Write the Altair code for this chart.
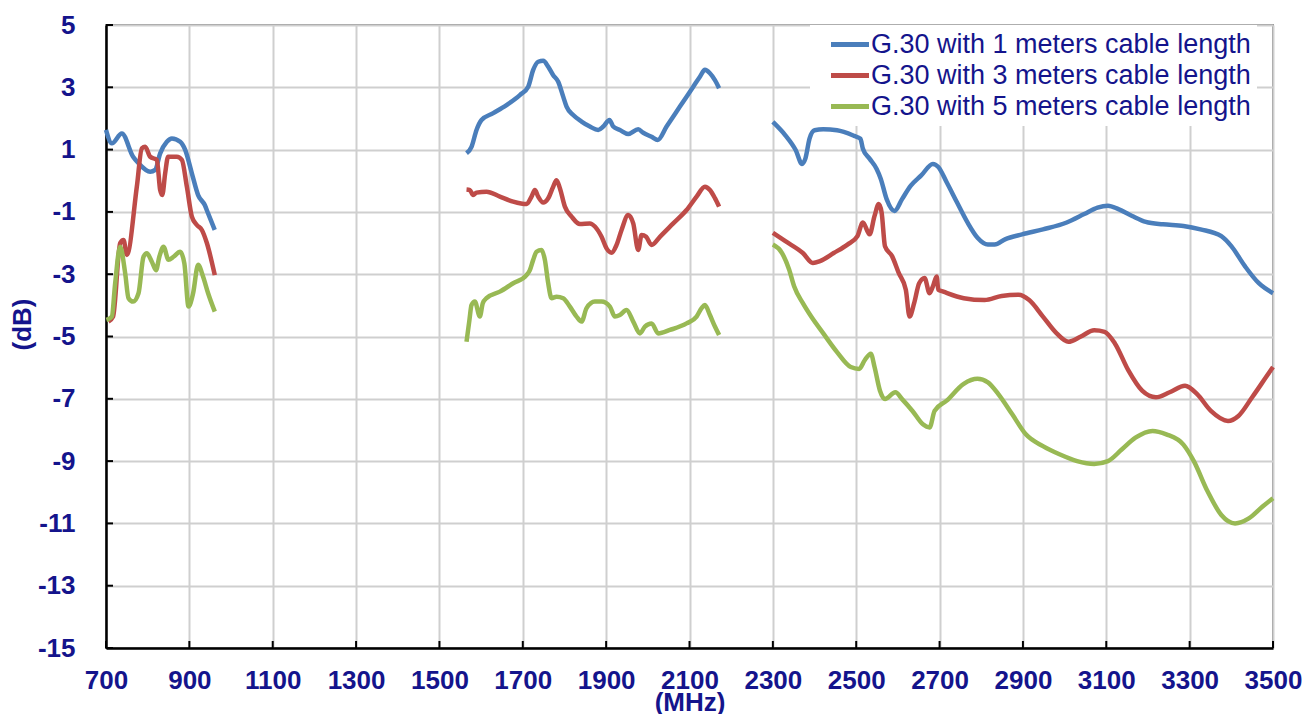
import altair as alt
import pandas as pd

NAVY = "#14148C"
FONT = "Liberation Sans"

series_names = [
    "G.30 with 1 meters cable length",
    "G.30 with 3 meters cable length",
    "G.30 with 5 meters cable length",
]
series_colors = ["#4A7EBB", "#BE4B48", "#98B954"]

# ---------- 1 m cable ----------
b1_f1 = [700, 714, 738, 765, 778, 806, 818, 830, 846, 858, 878, 890, 906, 921, 937, 945, 961]
b1_v1 = [1.63, 1.2, 1.52, 0.77, 0.56, 0.29, 0.35, 0.88, 1.25, 1.36, 1.25, 0.99, 0.24, -0.46, -0.78, -1.05, -1.58]
b2_f1 = [1565, 1577, 1589, 1601, 1629, 1661, 1693, 1713, 1725, 1737, 1749, 1761, 1773, 1785, 1797, 1805,
         1821, 1841, 1861, 1881, 1893, 1908, 1917, 1933, 1953, 1977, 1989, 2009, 2024, 2045, 2077, 2109,
         2125, 2137, 2149, 2161, 2171]
b2_v1 = [0.88, 1.09, 1.63, 1.95, 2.17, 2.43, 2.75, 3.02, 3.56, 3.82, 3.85, 3.66, 3.39, 3.18, 2.70, 2.38,
         2.11, 1.90, 1.74, 1.63, 1.74, 1.95, 1.74, 1.63, 1.50, 1.65, 1.54, 1.41, 1.31, 1.74, 2.38, 3.02,
         3.34, 3.56, 3.45, 3.23, 2.97]
b3_f1 = [2300, 2330, 2355, 2370, 2378, 2388, 2400, 2421, 2454, 2495, 2510, 2516, 2532, 2549, 2559, 2573,
         2592, 2610, 2631, 2656, 2684, 2697, 2717, 2742, 2767, 2791, 2816, 2832, 2857, 2898, 2948, 3005,
         3047, 3079, 3104, 3129, 3162, 3195, 3236, 3285, 3326, 3376, 3400, 3433, 3466, 3500]
b3_v1 = [1.89, 1.46, 0.98, 0.54, 0.71, 1.35, 1.62, 1.65, 1.62, 1.44, 1.35, 1.03, 0.71, 0.38, 0.06, -0.59,
         -0.97, -0.59, -0.16, 0.17, 0.54, 0.44, -0.05, -0.70, -1.34, -1.83, -2.05, -2.05, -1.88, -1.72, -1.56, -1.34,
         -1.07, -0.86, -0.80, -0.91, -1.13, -1.32, -1.40, -1.45, -1.56, -1.78, -2.10, -2.75, -3.29, -3.61]

# ---------- 3 m cable ----------
b1_f3 = [706, 717, 734, 742, 750, 774, 786, 794, 806, 822, 830, 835, 842, 849, 870, 882, 894, 906, 918, 930, 942, 961]
b1_v3 = [-4.52, -4.36, -2.0, -1.9, -2.38, -0.19, 1.04, 1.09, 0.77, 0.67, -0.30, -0.46, 0.24, 0.77, 0.77, 0.67,
         -0.19, -1.15, -1.42, -1.58, -2.0, -3.03]
b2_f3 = [1565, 1573, 1581, 1589, 1613, 1645, 1677, 1709, 1721, 1729, 1737, 1749, 1761, 1773, 1781, 1789,
         1801, 1817, 1837, 1861, 1873, 1889, 1901, 1913, 1925, 1937, 1953, 1965, 1977, 1985, 1996, 2009,
         2029, 2061, 2093, 2117, 2137, 2149, 2161, 2171]
b2_v3 = [-0.28, -0.30, -0.46, -0.38, -0.35, -0.51, -0.67, -0.75, -0.51, -0.30, -0.51, -0.70, -0.56, -0.19, 0.02, -0.24,
         -0.83, -1.15, -1.39, -1.37, -1.47, -1.80, -2.17, -2.31, -2.06, -1.58, -1.10, -1.37, -2.22, -1.74, -1.80, -2.06,
         -1.80, -1.37, -0.94, -0.51, -0.19, -0.30, -0.56, -0.83]
b3_f3 = [2300, 2330, 2372, 2396, 2413, 2446, 2479, 2503, 2516, 2532, 2544, 2554, 2561, 2569, 2586, 2602,
         2619, 2628, 2639, 2651, 2664, 2676, 2684, 2693, 2697, 2709, 2758, 2808, 2849, 2890, 2915, 2948,
         2981, 3009, 3038, 3071, 3096, 3121, 3153, 3186, 3219, 3252, 3289, 3318, 3351, 3392, 3417, 3450,
         3483, 3500]
b3_v3 = [-1.67, -1.94, -2.32, -2.64, -2.58, -2.32, -2.05, -1.78, -1.34, -1.72, -1.13, -0.75, -1.02, -2.10, -2.42, -2.96,
         -3.50, -4.36, -3.93, -3.29, -3.12, -3.61, -3.39, -3.07, -3.50, -3.56, -3.77, -3.83, -3.70, -3.66, -3.83, -4.36,
         -4.90, -5.17, -5.01, -4.80, -4.85, -5.23, -6.09, -6.74, -6.95, -6.79, -6.58, -6.85, -7.39, -7.71, -7.55, -6.95,
         -6.31, -5.98]

# ---------- 5 m cable ----------
b1_f5 = [701, 714, 722, 734, 746, 754, 765, 778, 790, 798, 810, 820, 828, 838, 850, 862, 878, 888, 898, 909,
         921, 933, 945, 961]
b1_v5 = [-4.47, -4.36, -3.29, -2.12, -2.97, -3.77, -3.88, -3.61, -2.44, -2.33, -2.60, -2.87, -2.44, -2.12, -2.54,
         -2.44, -2.28, -2.65, -4.04, -3.61, -2.70, -3.08, -3.61, -4.20]
b2_f5 = [1565, 1572, 1577, 1585, 1597, 1604, 1613, 1645, 1677, 1709, 1717, 1725, 1733, 1745, 1753, 1761,
         1769, 1781, 1797, 1813, 1829, 1841, 1853, 1873, 1889, 1909, 1921, 1933, 1949, 1965, 1981, 1993,
         2009, 2025, 2053, 2093, 2117, 2129, 2137, 2149, 2161, 2171]
b2_v5 = [-5.17, -4.47, -3.99, -3.88, -4.36, -3.93, -3.77, -3.56, -3.29, -3.03, -2.87, -2.54, -2.28, -2.22, -2.54, -3.29,
         -3.77, -3.72, -3.77, -4.04, -4.36, -4.52, -4.09, -3.88, -3.88, -4.04, -4.36, -4.31, -4.15, -4.52, -4.90, -4.68,
         -4.58, -4.90, -4.79, -4.58, -4.36, -4.09, -3.99, -4.31, -4.68, -4.95]
b3_f5 = [2300, 2322, 2339, 2351, 2372, 2392, 2421, 2454, 2487, 2507, 2520, 2535, 2544, 2557, 2569, 2594,
         2610, 2635, 2660, 2676, 2688, 2717, 2758, 2791, 2816, 2841, 2874, 2907, 2948, 2989, 3030, 3071,
         3104, 3137, 3170, 3211, 3244, 3285, 3310, 3343, 3376, 3409, 3442, 3475, 3500]
b3_v5 = [-2.05, -2.32, -2.85, -3.39, -3.93, -4.36, -4.90, -5.50, -5.98, -6.04, -5.77, -5.55, -5.98, -6.74, -7.01, -6.79,
         -7.01, -7.39, -7.82, -7.92, -7.39, -7.06, -6.52, -6.36, -6.47, -6.85, -7.49, -8.14, -8.52, -8.79, -9.00, -9.09,
         -9.00, -8.63, -8.25, -8.03, -8.14, -8.47, -9.00, -9.97, -10.73, -11.00, -10.84, -10.46, -10.19]

x_tick_values = list(range(700, 3501, 200))
y_grid_values = list(range(-15, 6, 1))
y_label_values = list(range(-15, 6, 2))

rows = []
groups = [
    (series_names[0], [(b1_f1, b1_v1), (b2_f1, b2_v1), (b3_f1, b3_v1)]),
    (series_names[1], [(b1_f3, b1_v3), (b2_f3, b2_v3), (b3_f3, b3_v3)]),
    (series_names[2], [(b1_f5, b1_v5), (b2_f5, b2_v5), (b3_f5, b3_v5)]),
]
for name, bands in groups:
    for bi, (fs, vs) in enumerate(bands):
        for f, v in zip(fs, vs):
            rows.append({"series": name, "band": f"{name}-{bi}", "MHz": f, "dB": v})
df = pd.DataFrame(rows)

W, H = 1167, 623

x_scale = alt.Scale(domain=[700, 3500], nice=False, zero=False)
y_scale = alt.Scale(domain=[-15, 5], nice=False, zero=False)

x_axis = alt.Axis(
    values=x_tick_values, grid=True, ticks=False, labelPadding=19,
    labelExpr="'' + datum.value",
    labelFont=FONT, labelFontSize=26, labelFontWeight="bold", labelColor=NAVY,
    domainColor="black", domainWidth=2.5,
    title="(MHz)", titleFont=FONT, titleFontSize=26, titleFontWeight="bold", titleColor=NAVY,
    titleBaseline="alphabetic", titleY=62, labelFlush=False,
)
y_axis = alt.Axis(
    values=y_grid_values, grid=True, ticks=False, labelPadding=31,
    labelExpr="datum.value % 2 != 0 ? '' + datum.value : ''",
    labelFont=FONT, labelFontSize=26, labelFontWeight="bold", labelColor=NAVY,
    domainColor="black", domainWidth=2.5,
    title="(dB)", titleFont=FONT, titleFontSize=26, titleFontWeight="bold", titleColor=NAVY,
    titleX=-84, titleY=299, titleAngle=-90, titleAlign="center", titleBaseline="middle",
)

lines = alt.Chart(df).mark_line(strokeWidth=4.5, interpolate="monotone").encode(
    x=alt.X("MHz:Q", scale=x_scale, axis=x_axis),
    y=alt.Y("dB:Q", scale=y_scale, axis=y_axis),
    color=alt.Color(
        "series:N",
        scale=alt.Scale(domain=series_names, range=series_colors),
        legend=alt.Legend(
            title=None, orient="none", legendX=704, legendY=0,
            symbolType="M-2,0H2", symbolSize=361, symbolStrokeWidth=5,
            labelFont=FONT, labelFontSize=27, labelColor=NAVY, labelLimit=0, labelOffset=7.5,
            fillColor="white", padding=6, rowPadding=3, symbolOffset=20.5,
        ),
    ),
    detail="band:N",
)

yticks = alt.Chart(pd.DataFrame({"v": y_label_values})).mark_rule(color="black", strokeWidth=2).encode(
    y=alt.Y("v:Q", scale=y_scale), x=alt.value(0), x2=alt.value(7)
)
xticks = alt.Chart(pd.DataFrame({"f": x_tick_values})).mark_rule(color="black", strokeWidth=2).encode(
    x=alt.X("f:Q", scale=x_scale), y=alt.value(H), y2=alt.value(H - 7)
)

chart = alt.layer(lines, yticks, xticks).properties(
    width=W, height=H,
    autosize=alt.AutoSizeParams(type="none"),
    padding={"left": 98, "top": 17, "right": 29, "bottom": 66},
    background="white",
).configure_view(stroke="#8c8c8c", strokeWidth=2).configure_axis(
    gridColor="#CFCFCF", gridWidth=2
)

chart.save("out.html", embed_options={"renderer": "svg", "actions": False})
